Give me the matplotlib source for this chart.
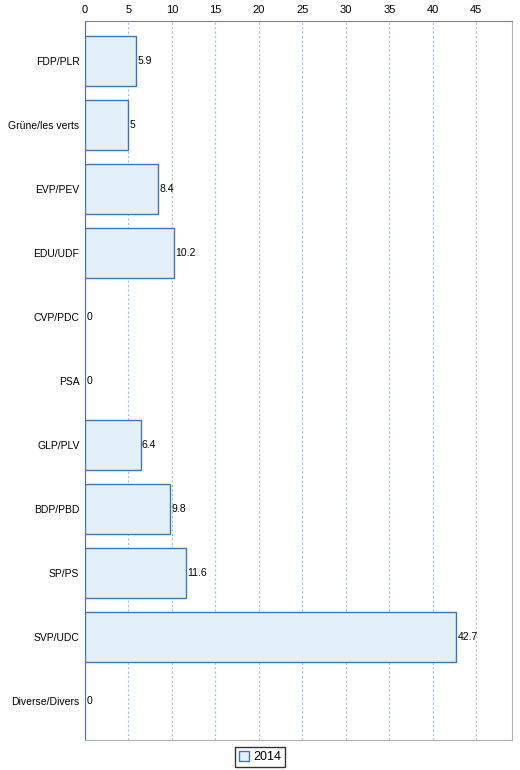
import matplotlib.pyplot as plt

plt.rcParams["font.family"] = ["Liberation Sans", "DejaVu Sans"]

parties = ["FDP/PLR", "Grüne/les verts", "EVP/PEV", "EDU/UDF", "CVP/PDC", "PSA",
           "GLP/PLV", "BDP/PBD", "SP/PS", "SVP/UDC", "Diverse/Divers"]
values = [5.9, 5, 8.4, 10.2, 0, 0, 6.4, 9.8, 11.6, 42.7, 0]
labels = ["5.9", "5", "8.4", "10.2", "0", "0", "6.4", "9.8", "11.6", "42.7", "0"]
xticks = [0, 5, 10, 15, 20, 25, 30, 35, 40, 45]

fig = plt.figure(figsize=(5.2, 7.7), dpi=100)
ax = fig.add_axes([85 / 520, 1 - 740 / 770, 427 / 520, 719 / 770])

pos = list(range(len(parties)))
widths = [1 if v > 0 else 0 for v in values]
bars = ax.barh(pos, values, height=0.79, color="#e3f0fa", edgecolor="#3d77b3",
               linewidth=widths, label="2014", zorder=3)
for p, v, t in zip(pos, values, labels):
    ax.text(v + 0.15, p, t, va="center", ha="left", fontsize=7.5, zorder=4)

ax.set_xlim(0, 49.1)
ax.set_ylim(10.61, -0.625)
ax.set_yticks(pos)
ax.set_yticklabels(parties, fontsize=7.5)
ax.set_xticks(xticks)
ax.tick_params(axis="x", labelsize=8, length=0, pad=4, top=True, bottom=False,
               labeltop=True, labelbottom=False)
ax.tick_params(axis="y", length=0, pad=4)
ax.xaxis.grid(True, linestyle=(0, (2, 2)), color="#9cc0e0", linewidth=0.8, zorder=0)

ax.spines["top"].set_color("#808080")
ax.spines["left"].set_color("#4a6f96")
ax.spines["right"].set_color("#b0b0b0")
ax.spines["bottom"].set_color("#b0b0b0")

leg = fig.legend(handles=[bars], labels=["2014"], loc="center",
                 bbox_to_anchor=(260 / 520, 1 - 757 / 770), fontsize=9,
                 frameon=True, fancybox=False, handlelength=0.8, handleheight=0.8,
                 handletextpad=0.3, borderpad=0.3)
leg.get_frame().set_edgecolor("black")
leg.get_frame().set_linewidth(1)

fig.savefig("out.png", dpi=100)
